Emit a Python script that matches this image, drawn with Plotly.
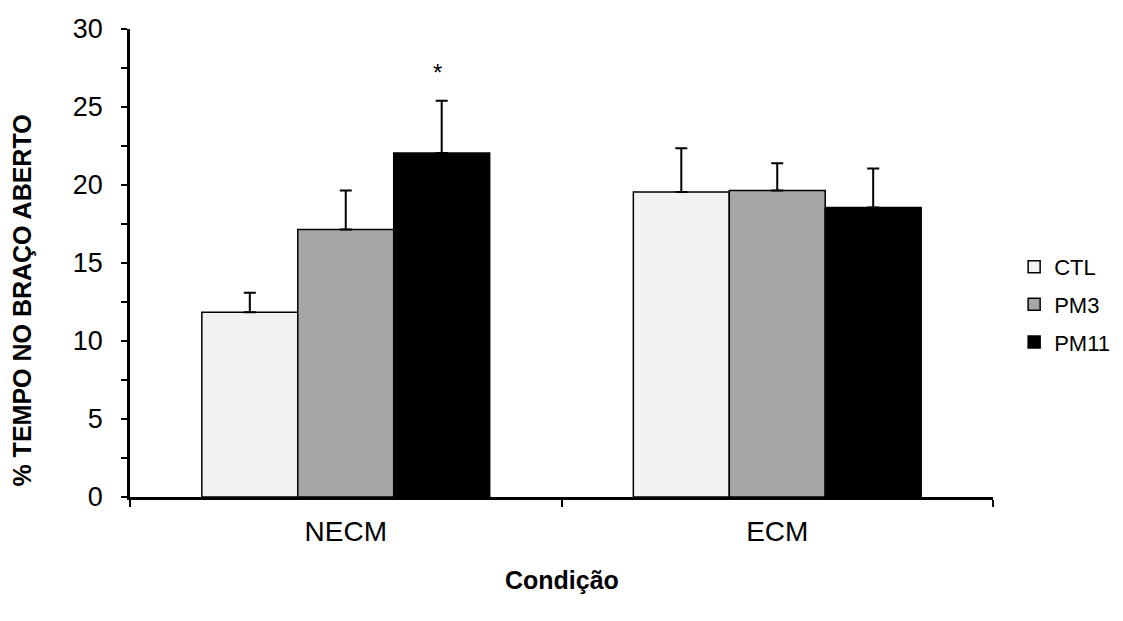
import plotly.graph_objects as go

categories = ["NECM", "ECM"]
series_names = ["CTL", "PM3", "PM11"]
ctl_values = [11.85, 19.55]
pm3_values = [17.15, 19.65]
pm11_values = [22.05, 18.55]
ctl_err = [1.25, 2.8]
pm3_err = [2.5, 1.75]
pm11_err = [3.35, 2.5]
colors = ["#f2f2f2", "#a6a6a6", "#000000"]
y_ticks = [0, 5, 10, 15, 20, 25, 30]
x_title = "Condição"
y_title = "% TEMPO NO BRAÇO ABERTO"

values = [ctl_values, pm3_values, pm11_values]
errs = [ctl_err, pm3_err, pm11_err]

FONT = "Liberation Sans, Arial, sans-serif"

fig = go.Figure()
for name, vals, err, col in zip(series_names, values, errs, colors):
    fig.add_trace(go.Bar(
        name=name, x=categories, y=vals, legendgroup=name,
        marker=dict(color=col, line=dict(color="black", width=1.5)),
        error_y=dict(type="data", array=err, symmetric=False, arrayminus=[0, 0],
                     color="black", thickness=2, width=6),
    ))

fig.add_annotation(x="NECM", y=27.2, text="*", showarrow=False, xshift=92,
                   font=dict(size=24, color="black", family=FONT))
fig.add_annotation(xref="paper", yref="paper", x=-0.125, y=0.42, text="<b>" + y_title + "</b>",
                   textangle=-90, showarrow=False, xanchor="center", yanchor="middle",
                   font=dict(size=25, color="black", family=FONT))
fig.add_annotation(xref="paper", yref="paper", x=0.5, y=-0.178, text="<b>" + x_title + "</b>",
                   showarrow=False, xanchor="center", yanchor="middle",
                   font=dict(size=25, color="black", family=FONT))

fig.update_layout(
    width=1123, height=621,
    margin=dict(l=130, r=130, t=29, b=124, autoexpand=False),
    paper_bgcolor="white", plot_bgcolor="white",
    barmode="group", bargap=0.333, bargroupgap=0,
    font=dict(family=FONT, color="black"),
    showlegend=True,
    legend=dict(x=1.0245, y=0.4115, xanchor="left", yanchor="middle",
                font=dict(size=22, family=FONT), bgcolor="rgba(0,0,0,0)",
                itemwidth=30, tracegroupgap=6),
    xaxis=dict(
        showline=True, linecolor="black", linewidth=3,
        ticks="outside", tickson="boundaries", ticklen=7, tickwidth=2, tickcolor="black",
        tickfont=dict(size=28, family=FONT), showgrid=False, ticklabelstandoff=7,
        automargin=False,
    ),
    yaxis=dict(
        range=[0, 30], tickvals=y_ticks, showline=True, linecolor="black", linewidth=2.5,
        ticks="outside", ticklen=6, tickwidth=2, tickcolor="black",
        minor=dict(dtick=2.5, ticks="outside", ticklen=6, tickwidth=2, tickcolor="black"),
        tickfont=dict(size=27, family=FONT), showgrid=False, zeroline=False,
        ticklabelstandoff=13, automargin=False,
    ),
)

fig.write_html(
    "out.html",
    config={"displayModeBar": False},
    post_script="document.body.style.margin='0';document.body.style.overflow='hidden';",
)
